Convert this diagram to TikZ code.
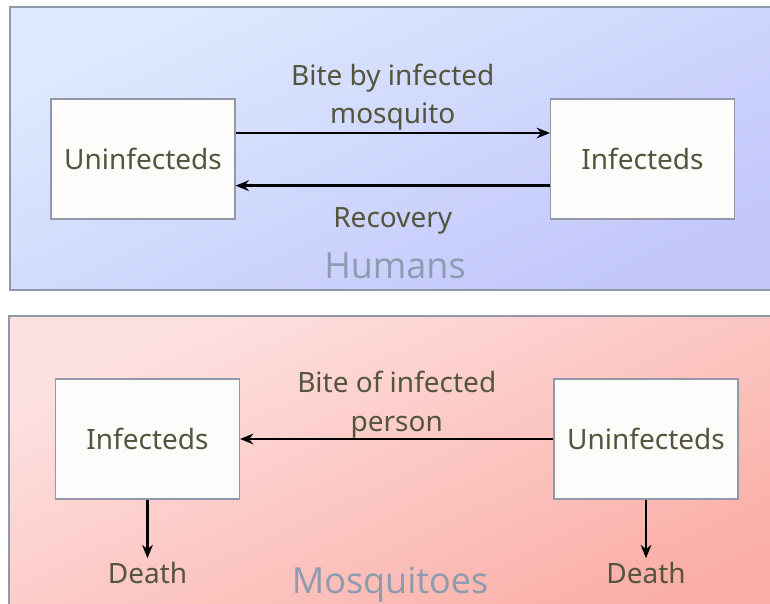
\documentclass[tikz,border=0pt]{standalone}
\usepackage{fontspec}
\setmainfont{Noto Sans}
\newfontfamily\titlefont{Open Sans}
\usetikzlibrary{arrows.meta,positioning}
\definecolor{txt}{RGB}{85,85,62}
\definecolor{ttl}{RGB}{142,154,175}
\definecolor{hmA}{RGB}{222,234,254}
\definecolor{hmB}{RGB}{194,198,251}
\definecolor{mqA}{RGB}{254,226,226}
\definecolor{mqB}{RGB}{250,174,166}
\definecolor{frm}{RGB}{146,152,168}
\definecolor{boxfill}{RGB}{254,252,250}
\begin{document}
\begin{tikzpicture}[x=0.75pt,y=-0.75pt,
  state/.style={draw=frm,line width=0.8pt,fill=boxfill,minimum width=138pt,minimum height=90pt,text=txt,font=\fontsize{21}{29}\selectfont},
  lbl/.style={text=txt,font=\fontsize{21}{29}\selectfont,align=center},
  flow/.style={-{Stealth[length=10pt,width=8pt]},line width=1.8pt},
  title/.style={text=ttl,font=\titlefont\fontsize{27}{30}\selectfont,anchor=base}]
  \useasboundingbox (0,0) rectangle (770,603);
  % 上: ヒト (Humans), 下: 蚊 (Mosquitoes)
  \shade[draw=frm,line width=1.2pt,top color=hmA,bottom color=hmB,shading angle=25] (10,7) rectangle (790,290);
  \shade[draw=frm,line width=1.2pt,top color=mqA,bottom color=mqB,shading angle=25] (9,316) rectangle (790,620);

  \node[state] (hU) at (143,159) {Uninfecteds};
  \node[state] (hI) at (642.5,159) {Infecteds};
  \draw[flow] ([yshift=19.5pt]hU.east) -- node[lbl,above,inner sep=1pt]{Bite by infected\\mosquito} ([yshift=19.5pt]hI.west);
  \draw[flow] ([yshift=-20pt]hI.west) -- node[lbl,below=12pt]{Recovery} ([yshift=-20pt]hU.east);
  \node[title] (hT) at (395,278) {Humans};

  \node[state] (mI) at (147.5,439) {Infecteds};
  \node[state] (mU) at (646,439) {Uninfecteds};
  \draw[flow] (mU) -- node[lbl,above,inner sep=0pt]{Bite of infected\\person} (mI);
  \node[lbl,inner sep=3pt,below=44pt of mI] (dI) {Death};
  \node[lbl,inner sep=3pt,below=44pt of mU] (dU) {Death};
  \draw[flow] (mI) -- (dI);
  \draw[flow] (mU) -- (dU);
  \node[title] (mT) at (390,593) {Mosquitoes};
\end{tikzpicture}
\end{document}
